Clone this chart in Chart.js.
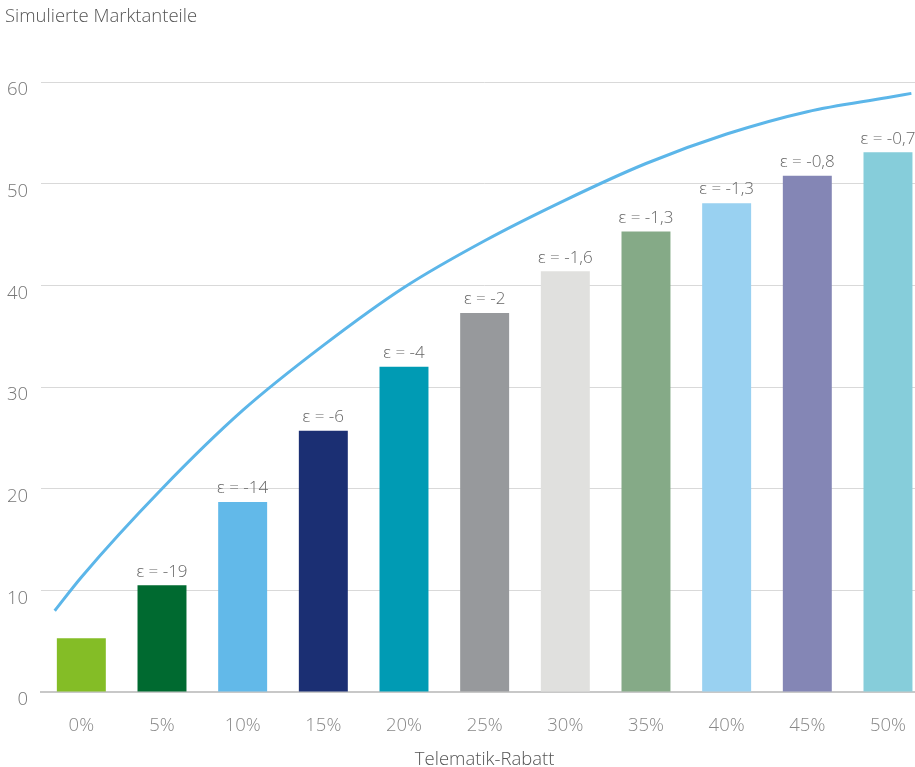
<!DOCTYPE html>
<html>
<head>
<meta charset="utf-8">
<script src="https://cdn.jsdelivr.net/npm/chart.js@4"></script>
<style>
  html, body { margin: 0; padding: 0; background: #fff; overflow: hidden; width: 915px; height: 767px; }
  #wrap { width: 929px; height: 771px; }
</style>
</head>
<body>
<div id="wrap"><canvas id="c" width="929" height="771"></canvas></div>
<script>
const categories = ['0%', '5%', '10%', '15%', '20%', '25%', '30%', '35%', '40%', '45%', '50%'];
const marketShare = [5.3, 10.5, 18.7, 25.7, 32.0, 37.3, 41.4, 45.3, 48.1, 50.8, 53.1];
const epsLabels = ['', 'ε = -19', 'ε = -14', 'ε = -6', 'ε = -4', 'ε = -2', 'ε = -1,6', 'ε = -1,3', 'ε = -1,3', 'ε = -0,8', 'ε = -0,7'];
const barColors = ['#84bd26', '#006a30', '#62b9e9', '#1b2f73', '#009bb4', '#97999c', '#e0e0de', '#85aa87', '#99d1f1', '#8486b5', '#86cdda'];
const curveX = [-0.33, 0, 1, 2, 3, 4, 5, 6, 7, 8, 9, 10, 10.29];
const curveY = [8.0, 11.3, 20.0, 27.7, 34.1, 39.8, 44.4, 48.4, 52.0, 54.9, 57.1, 58.5, 58.9];
const yTicks = [0, 10, 20, 30, 40, 50, 60];

const FONT = "'Open Sans', 'DejaVu Sans', sans-serif";

const epsPlugin = {
  id: 'epsLabels',
  afterDatasetsDraw(chart) {
    const meta = chart.getDatasetMeta(0);
    const ctx = chart.ctx;
    ctx.save();
    ctx.font = "300 17px " + FONT;
    ctx.fillStyle = '#666666';
    ctx.textAlign = 'center';
    ctx.textBaseline = 'bottom';
    meta.data.forEach((el, i) => {
      const t = epsLabels[i];
      if (t) ctx.fillText(t, el.x, el.y - 5);
    });
    ctx.restore();
  }
};

new Chart(document.getElementById('c'), {
  data: {
    labels: categories,
    datasets: [
      {
        type: 'bar',
        data: marketShare,
        backgroundColor: barColors,
        borderWidth: 0,
        grouped: false,
        barPercentage: 0.607,
        categoryPercentage: 1.0,
        xAxisID: 'x',
        yAxisID: 'y',
        order: 2
      },
      {
        type: 'line',
        data: curveX.map((x, i) => ({ x: x, y: curveY[i] })),
        borderColor: '#5cb6e9',
        borderWidth: 3,
        pointRadius: 0,
        cubicInterpolationMode: 'monotone',
        fill: false,
        xAxisID: 'x2',
        yAxisID: 'y',
        order: 1
      }
    ]
  },
  options: {
    responsive: false,
    animation: false,
    layout: { padding: { left: 5, right: 0, top: 0, bottom: 0 } },
    plugins: {
      legend: { display: false },
      tooltip: { enabled: false },
      title: {
        display: true,
        text: 'Simulierte Marktanteile',
        align: 'start',
        color: '#555555',
        font: { family: FONT, size: 18.5, weight: '300' },
        padding: { top: 6, bottom: 54 }
      }
    },
    scales: {
      x: {
        type: 'category',
        offset: true,
        grid: { display: false, drawTicks: false },
        border: { display: true, color: '#c8c8c8', width: 2 },
        ticks: { color: '#888888', font: { family: FONT, size: 18.5, weight: '300' }, padding: 23 },
        title: {
          display: true,
          text: 'Telematik-Rabatt',
          color: '#555555',
          font: { family: FONT, size: 18.5, weight: '300' },
          padding: { top: 0, bottom: 0 }
        },
        afterFit(scale) { scale.height = 79; }
      },
      x2: {
        type: 'linear',
        display: false,
        min: -0.5,
        max: 10.5
      },
      y: {
        min: 0,
        max: 60,
        afterBuildTicks(scale) { scale.ticks = yTicks.map(v => ({ value: v })); },
        grid: { color: '#d9d9d9', lineWidth: 1, drawTicks: false },
        border: { display: false },
        ticks: { color: '#777777', font: { family: FONT, size: 18.5, weight: '300' }, padding: 13, labelOffset: 8 },
        afterFit(scale) { scale.width = 36; }
      }
    }
  },
  plugins: [epsPlugin]
});
</script>
</body>
</html>
